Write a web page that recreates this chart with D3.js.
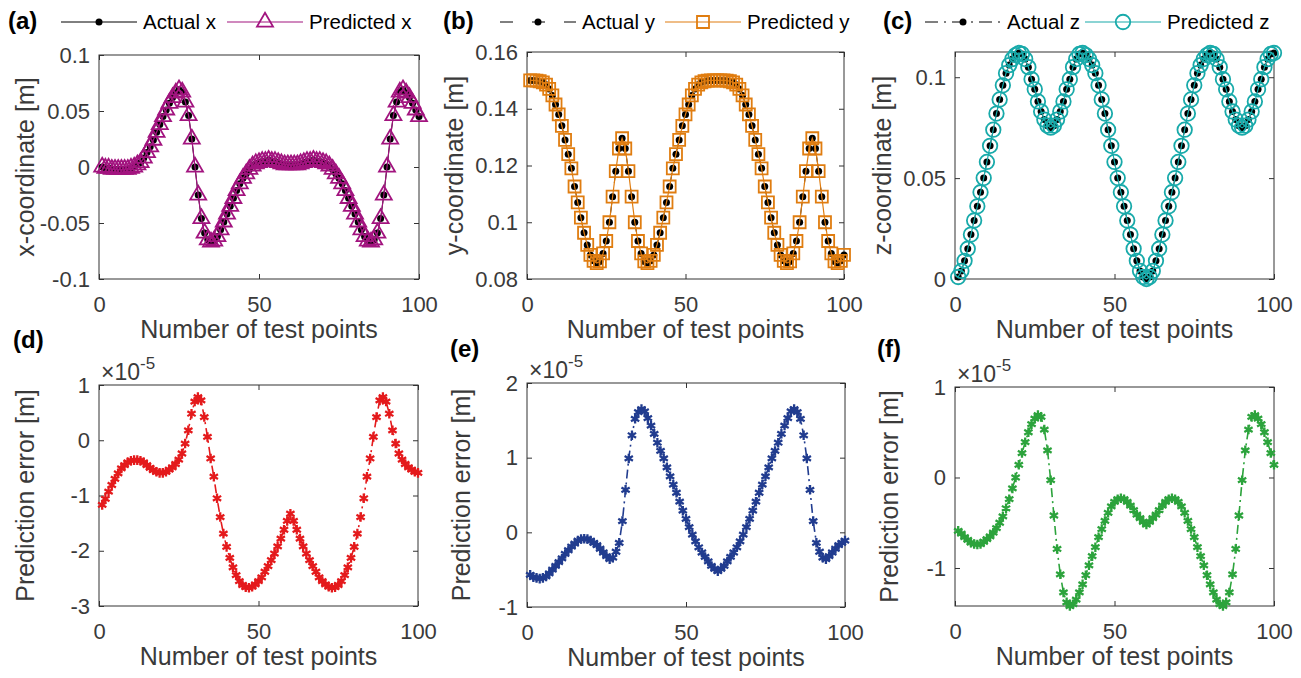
<!DOCTYPE html>
<html>
<head>
<meta charset="utf-8">
<script src="https://cdn.jsdelivr.net/npm/d3@7"></script>
<style>
body { margin: 0; background: #fff; }
svg { font-family: "Liberation Sans", Arial, Helvetica, sans-serif; }
</style>
</head>
<body>
<script>
// test point index (1..100)
var testPoints = d3.range(1, 101);

// trajectory coordinates (a)-(c), metres
var actualX = [
  0.000, -0.001, -0.001, -0.002, -0.002, -0.002, -0.002, -0.002, -0.002, -0.001,
  0.000, 0.002, 0.004, 0.008, 0.013, 0.018, 0.024, 0.031, 0.038, 0.045,
  0.051, 0.057, 0.062, 0.066, 0.069, 0.067, 0.058, 0.046, 0.025, 0.000,
  -0.025, -0.046, -0.059, -0.065, -0.067, -0.066, -0.062, -0.056, -0.049, -0.042,
  -0.035, -0.028, -0.021, -0.015, -0.010, -0.006, -0.002, 0.001, 0.003, 0.004,
  0.005, 0.005, 0.006, 0.005, 0.005, 0.004, 0.003, 0.002, 0.002, 0.002,
  0.002, 0.002, 0.003, 0.004, 0.005, 0.005, 0.006, 0.005, 0.005, 0.004,
  0.003, 0.001, -0.002, -0.006, -0.010, -0.015, -0.021, -0.028, -0.035, -0.042,
  -0.049, -0.056, -0.062, -0.066, -0.067, -0.065, -0.059, -0.046, -0.025, 0.000,
  0.025, 0.046, 0.058, 0.067, 0.069, 0.066, 0.062, 0.057, 0.051, 0.045
];
var actualY = [
  0.1500, 0.1500, 0.1499, 0.1497, 0.1493, 0.1485, 0.1470, 0.1447, 0.1415, 0.1380,
  0.1340, 0.1290, 0.1240, 0.1190, 0.1126, 0.1070, 0.1016, 0.0963, 0.0920, 0.0885,
  0.0864, 0.0856, 0.0862, 0.0890, 0.0934, 0.1000, 0.1090, 0.1180, 0.1260, 0.1296,
  0.1260, 0.1180, 0.1090, 0.1000, 0.0934, 0.0890, 0.0862, 0.0856, 0.0864, 0.0885,
  0.0920, 0.0963, 0.1016, 0.1070, 0.1126, 0.1190, 0.1240, 0.1290, 0.1340, 0.1380,
  0.1415, 0.1447, 0.1470, 0.1485, 0.1493, 0.1497, 0.1499, 0.1500, 0.1500, 0.1500,
  0.1500, 0.1500, 0.1499, 0.1497, 0.1493, 0.1485, 0.1470, 0.1447, 0.1415, 0.1380,
  0.1340, 0.1290, 0.1240, 0.1190, 0.1126, 0.1070, 0.1016, 0.0963, 0.0920, 0.0885,
  0.0864, 0.0856, 0.0862, 0.0890, 0.0934, 0.1000, 0.1090, 0.1180, 0.1260, 0.1296,
  0.1260, 0.1180, 0.1090, 0.1000, 0.0934, 0.0890, 0.0862, 0.0856, 0.0864, 0.0885
];
var actualZ = [
  0.001, 0.004, 0.009, 0.015, 0.022, 0.029, 0.036, 0.043, 0.050, 0.058,
  0.066, 0.074, 0.082, 0.089, 0.096, 0.102, 0.106, 0.109, 0.111, 0.112,
  0.1115, 0.109, 0.105, 0.099, 0.094, 0.088, 0.083, 0.079, 0.076, 0.075,
  0.076, 0.079, 0.083, 0.088, 0.094, 0.099, 0.105, 0.109, 0.1115, 0.112,
  0.111, 0.109, 0.106, 0.102, 0.096, 0.089, 0.082, 0.074, 0.066, 0.058,
  0.050, 0.043, 0.036, 0.029, 0.022, 0.015, 0.009, 0.004, 0.001, 0.000,
  0.001, 0.004, 0.009, 0.015, 0.022, 0.029, 0.036, 0.043, 0.050, 0.058,
  0.066, 0.074, 0.082, 0.089, 0.096, 0.102, 0.106, 0.109, 0.111, 0.112,
  0.1115, 0.109, 0.105, 0.099, 0.094, 0.088, 0.083, 0.079, 0.076, 0.075,
  0.076, 0.079, 0.083, 0.088, 0.094, 0.099, 0.105, 0.109, 0.1115, 0.112
];
// predictions differ from the actual values by ~1e-5 m, so they plot on top of them
var predictedX = actualX.slice();
var predictedY = actualY.slice();
var predictedZ = actualZ.slice();

// prediction errors, in units of 1e-5 m
var errorX = [
  -1.17, -1.06, -0.93, -0.81, -0.70, -0.60, -0.51, -0.45, -0.40, -0.37,
  -0.36, -0.36, -0.37, -0.40, -0.45, -0.50, -0.54, -0.57, -0.59, -0.59,
  -0.57, -0.53, -0.49, -0.43, -0.35, -0.24, -0.06, 0.18, 0.48, 0.70,
  0.78, 0.72, 0.42, 0.06, -0.33, -0.66, -1.05, -1.39, -1.69, -1.93,
  -2.13, -2.30, -2.44, -2.55, -2.62, -2.66, -2.67, -2.65, -2.61, -2.55,
  -2.48, -2.38, -2.28, -2.17, -2.05, -1.92, -1.78, -1.62, -1.46, -1.33,
  -1.46, -1.62, -1.78, -1.92, -2.05, -2.17, -2.28, -2.38, -2.48, -2.55,
  -2.61, -2.65, -2.67, -2.66, -2.62, -2.55, -2.44, -2.30, -2.13, -1.93,
  -1.69, -1.39, -1.05, -0.66, -0.33, 0.06, 0.42, 0.72, 0.78, 0.70,
  0.48, 0.18, -0.06, -0.24, -0.35, -0.43, -0.49, -0.53, -0.57, -0.59
];
var errorY = [
  -0.57, -0.60, -0.61, -0.62, -0.61, -0.59, -0.55, -0.50, -0.45, -0.40,
  -0.35, -0.29, -0.24, -0.19, -0.15, -0.11, -0.09, -0.085, -0.09, -0.11,
  -0.14, -0.17, -0.22, -0.27, -0.32, -0.36, -0.34, -0.26, -0.14, 0.15,
  0.57, 0.99, 1.30, 1.52, 1.61, 1.65, 1.62, 1.53, 1.43, 1.32,
  1.20, 1.09, 0.99, 0.87, 0.75, 0.64, 0.53, 0.41, 0.29, 0.18,
  0.07, -0.03, -0.12, -0.20, -0.27, -0.33, -0.39, -0.45, -0.49, -0.52,
  -0.49, -0.45, -0.39, -0.33, -0.27, -0.20, -0.12, -0.03, 0.07, 0.18,
  0.29, 0.41, 0.53, 0.64, 0.75, 0.87, 0.99, 1.09, 1.20, 1.32,
  1.43, 1.53, 1.62, 1.65, 1.61, 1.52, 1.30, 0.99, 0.57, 0.15,
  -0.14, -0.26, -0.34, -0.36, -0.32, -0.27, -0.22, -0.17, -0.14, -0.11
];
var errorZ = [
  -0.59, -0.62, -0.66, -0.69, -0.72, -0.735, -0.74, -0.735, -0.71, -0.68,
  -0.65, -0.61, -0.56, -0.50, -0.43, -0.34, -0.24, -0.12, 0.00, 0.14,
  0.27, 0.39, 0.50, 0.59, 0.65, 0.69, 0.67, 0.53, 0.30, -0.03,
  -0.42, -0.79, -1.07, -1.27, -1.38, -1.42, -1.40, -1.35, -1.27, -1.18,
  -1.08, -0.97, -0.87, -0.77, -0.66, -0.57, -0.48, -0.39, -0.32, -0.27,
  -0.24, -0.23, -0.24, -0.27, -0.31, -0.36, -0.41, -0.45, -0.49, -0.52,
  -0.49, -0.45, -0.41, -0.36, -0.31, -0.27, -0.24, -0.23, -0.24, -0.27,
  -0.32, -0.39, -0.48, -0.57, -0.66, -0.77, -0.87, -0.97, -1.08, -1.18,
  -1.27, -1.35, -1.40, -1.42, -1.38, -1.27, -1.07, -0.79, -0.42, -0.03,
  0.30, 0.53, 0.67, 0.69, 0.65, 0.59, 0.50, 0.39, 0.27, 0.14
];

// tick values
var xTicks = [0, 50, 100];
var yTicksA = [-0.1, -0.05, 0, 0.05, 0.1];
var yTicksB = [0.08, 0.1, 0.12, 0.14, 0.16];
var yTicksC = [0, 0.05, 0.1];
var yTicksD = [-3, -2, -1, 0, 1];
var yTicksE = [-1, 0, 1, 2];
var yTicksF = [-1, 0, 1];

var axisColor = "#333333";
var textColor = "#3a3a3a";
var tickFont = 22, labelFont = 25, legendFont = 20.5;

var svg = d3.select("body").append("svg")
  .attr("width", 1301)
  .attr("height", 678);
svg.append("rect").attr("width", 1301).attr("height", 678).attr("fill", "#fff");

// marker shapes
function markerPath(kind, s) {
  if (kind === "tri") return d3.symbol(d3.symbolTriangle, s * s * 0.433)();
  if (kind === "square") return "M" + (-s/2) + "," + (-s/2) + "h" + s + "v" + s + "h" + (-s) + "Z";
  if (kind === "circle") return d3.symbol(d3.symbolCircle, Math.PI * s * s / 4)();
  if (kind === "dot") return d3.symbol(d3.symbolCircle, Math.PI * s * s / 4)();
  if (kind === "star") return d3.symbol(d3.symbolAsterisk, s * s)();
  return "";
}

function drawSeries(g, x, y, values, st) {
  var line = d3.line()
    .x((d, i) => x(testPoints[i]))
    .y(d => y(d));
  g.append("path")
    .datum(values)
    .attr("d", line)
    .attr("fill", "none")
    .attr("stroke", st.color)
    .attr("stroke-width", st.lw)
    .attr("stroke-dasharray", st.dash || null);
  g.append("g").selectAll("path")
    .data(values)
    .enter()
    .append("path")
    .attr("transform", (d, i) => `translate(${x(testPoints[i])},${y(d)})`)
    .attr("d", markerPath(st.marker, st.size))
    .attr("fill", st.fill)
    .attr("stroke", st.mstroke)
    .attr("stroke-width", st.mlw);
}

function drawLegendItem(lx, ly, label, st) {
  var g = svg.append("g");
  g.append("line")
    .attr("x1", lx).attr("x2", lx + 76)
    .attr("y1", ly).attr("y2", ly)
    .attr("stroke", st.color)
    .attr("stroke-width", st.lw)
    .attr("stroke-dasharray", st.legendDash || null);
  g.append("path")
    .attr("transform", `translate(${lx + 38},${ly})`)
    .attr("d", markerPath(st.marker, st.size))
    .attr("fill", st.fill)
    .attr("stroke", st.mstroke)
    .attr("stroke-width", st.mlw);
  g.append("text")
    .attr("x", lx + 82)
    .attr("y", ly + 7)
    .attr("font-size", legendFont)
    .attr("fill", "#000")
    .text(label);
}

function drawPanel(p) {
  var x = d3.scaleLinear().domain([0, 100]).range([p.left, p.right]);
  var y = d3.scaleLinear().domain(p.yDomain).range([p.bottom, p.top]);
  var fmt = p.fmt || (d => String(+d.toFixed(3)));

  var axB = svg.append("g")
    .attr("transform", `translate(0,${p.bottom})`)
    .call(d3.axisBottom(x).tickValues(xTicks).tickSize(-5).tickSizeOuter(0).tickPadding(17).tickFormat(d3.format("d")));
  var axL = svg.append("g")
    .attr("transform", `translate(${p.left},0)`)
    .call(d3.axisLeft(y).tickValues(p.yTicks).tickSize(-5).tickSizeOuter(0).tickPadding(9).tickFormat(fmt));
  var axT = svg.append("g")
    .attr("transform", `translate(0,${p.top})`)
    .call(d3.axisTop(x).tickValues(xTicks).tickSize(-5).tickSizeOuter(0).tickFormat(""));
  var axR = svg.append("g")
    .attr("transform", `translate(${p.right},0)`)
    .call(d3.axisRight(y).tickValues(p.yTicks).tickSize(-5).tickSizeOuter(0).tickFormat(""));

  [axB, axL, axT, axR].forEach(function(a) {
    a.select(".domain").remove();
    a.selectAll("line").attr("stroke", axisColor);
    a.selectAll("text")
      .attr("font-size", tickFont)
      .attr("font-family", "Liberation Sans, Arial, sans-serif")
      .attr("fill", textColor);
  });

  svg.append("rect")
    .attr("x", p.left).attr("y", p.top)
    .attr("width", p.right - p.left).attr("height", p.bottom - p.top)
    .attr("fill", "none")
    .attr("stroke", axisColor)
    .attr("stroke-width", 1);

  var g = svg.append("g");
  p.series.forEach(s => drawSeries(g, x, y, s.values, s.style));

  svg.append("text")
    .attr("x", (p.left + p.right) / 2)
    .attr("y", p.bottom + 59)
    .attr("text-anchor", "middle")
    .attr("font-size", labelFont)
    .attr("fill", textColor)
    .text("Number of test points");

  svg.append("text")
    .attr("transform", `translate(${p.ylabelX},${(p.top + p.bottom) / 2}) rotate(-90)`)
    .attr("text-anchor", "middle")
    .attr("dy", "0.35em")
    .attr("font-size", labelFont)
    .attr("fill", textColor)
    .text(p.ylabel);

  svg.append("text")
    .attr("x", p.letterX)
    .attr("y", p.letterY)
    .attr("font-size", 24)
    .attr("font-weight", "bold")
    .attr("fill", "#000")
    .text(p.letter);

  if (p.exponent) {
    var t = svg.append("text")
      .attr("x", p.left + 2)
      .attr("y", p.top - 5)
      .attr("font-size", 23)
      .attr("fill", textColor);
    t.append("tspan").text("\u00d710");
    t.append("tspan").attr("dy", -11).attr("font-size", 17).text("-5");
  }
}

var actualStyle = function(dash, legendDash) {
  return { color: "#000", lw: 1, dash: dash, legendDash: legendDash, marker: "dot", size: 7, fill: "#000", mstroke: "none", mlw: 0 };
};
var predStyle = function(color, marker, size) {
  return { color: color, lw: 1.2, marker: marker, size: size, fill: "none", mstroke: color, mlw: 1.8 };
};
var errStyle = function(color) {
  return { color: color, lw: 1.6, dash: "9,4,2,4", marker: "star", size: 8, fill: "none", mstroke: color, mlw: 2.3 };
};

var purple = "#A2147F", orange = "#E07D10", teal = "#18AAAA";
var red = "#E41A1C", blue = "#213C8F", green = "#2CA33C";

var styleAx = actualStyle(null, null), stylePx = predStyle(purple, "tri", 16);
var styleAy = actualStyle("13,19", "13,19"), stylePy = predStyle(orange, "square", 12);
var styleAz = actualStyle("13,6,2,6", "13,6,2,6"), stylePz = predStyle(teal, "circle", 14.5);

var panels = [
  { left: 99, right: 419, top: 55, bottom: 279, yDomain: [-0.1, 0.1], yTicks: yTicksA,
    ylabel: "x-coordinate [m]", ylabelX: 25, letter: "(a)", letterX: 8, letterY: 29,
    series: [{ values: actualX, style: styleAx }, { values: predictedX, style: stylePx }] },
  { left: 527, right: 844, top: 52, bottom: 279, yDomain: [0.08, 0.16], yTicks: yTicksB,
    ylabel: "y-coordinate [m]", ylabelX: 454, letter: "(b)", letterX: 443, letterY: 29,
    series: [{ values: actualY, style: styleAy }, { values: predictedY, style: stylePy }] },
  { left: 955, right: 1274, top: 52, bottom: 279, yDomain: [0, 0.1125], yTicks: yTicksC,
    ylabel: "z-coordinate [m]", ylabelX: 882, letter: "(c)", letterX: 883, letterY: 29,
    series: [{ values: actualZ, style: styleAz }, { values: predictedZ, style: stylePz }] },
  { left: 99, right: 418, top: 385, bottom: 606, yDomain: [-3, 1], yTicks: yTicksD,
    ylabel: "Prediction error [m]", ylabelX: 25, letter: "(d)", letterX: 13, letterY: 348, exponent: true,
    series: [{ values: errorX, style: errStyle(red) }] },
  { left: 527, right: 845, top: 383, bottom: 607, yDomain: [-1, 2], yTicks: yTicksE,
    ylabel: "Prediction error [m]", ylabelX: 461, letter: "(e)", letterX: 450, letterY: 357, exponent: true,
    series: [{ values: errorY, style: errStyle(blue) }] },
  { left: 955, right: 1274, top: 387, bottom: 606, yDomain: [-1.42, 1], yTicks: yTicksF,
    ylabel: "Prediction error [m]", ylabelX: 889, letter: "(f)", letterX: 877, letterY: 357, exponent: true,
    series: [{ values: errorZ, style: errStyle(green) }] }
];

panels.forEach(drawPanel);

// legends above the top row
drawLegendItem(61, 22, "Actual x", styleAx);
drawLegendItem(227, 22, "Predicted x", stylePx);
drawLegendItem(500, 22, "Actual y", styleAy);
drawLegendItem(665, 22, "Predicted y", stylePy);
drawLegendItem(925, 22, "Actual z", styleAz);
drawLegendItem(1085, 22, "Predicted z", stylePz);
</script>
</body>
</html>
